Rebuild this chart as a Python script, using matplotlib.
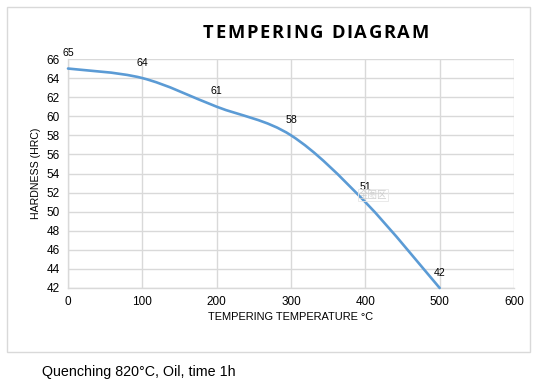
import numpy as np
import matplotlib
matplotlib.use("Agg")
import matplotlib.pyplot as plt
from matplotlib.path import Path
from matplotlib.patches import PathPatch, Rectangle

# Tempering diagram: hardness vs tempering temperature
temps = [0, 100, 200, 300, 400, 500]
hardness = [65, 64, 61, 58, 51, 42]
x_ticks = [0, 100, 200, 300, 400, 500, 600]
y_ticks = list(range(42, 67, 2))

title = "TEMPERING DIAGRAM"
x_label = "TEMPERING TEMPERATURE °C"
y_label = "HARDNESS (HRC)"
caption = "Quenching 820°C, Oil, time 1h"

line_color = "#5B9BD5"
grid_color = "#D9D9D9"

plt.rcParams["font.family"] = ["Liberation Sans", "DejaVu Sans"]

fig = plt.figure(figsize=(5.4, 3.82), dpi=100)
fig.patch.set_facecolor("white")

# outer chart frame
fig.patches.append(Rectangle((7 / 540, 1 - 352 / 382), 523 / 540, 345 / 382,
                             transform=fig.transFigure, fill=False,
                             edgecolor="#D9D9D9", linewidth=1.0))

ax = fig.add_axes([68 / 540, 1 - 288 / 382, 446 / 540, 229 / 382])
ax.set_xlim(0, 600)
ax.set_ylim(42, 66)
ax.set_xticks(x_ticks)
ax.set_yticks(y_ticks)
ax.tick_params(length=0, labelsize=8.5, colors="#000000", pad=6)
ax.grid(True, color=grid_color, linewidth=1.0)
ax.set_axisbelow(True)
for side in ["top", "right"]:
    ax.spines[side].set_visible(False)
for side in ["left", "bottom"]:
    ax.spines[side].set_color(grid_color)
    ax.spines[side].set_linewidth(1.0)

# smoothed line like a spreadsheet "smooth line" (bezier through the points)
pts = np.column_stack([temps, hardness]).astype(float)
verts = [pts[0]]
codes = [Path.MOVETO]
n = len(pts)
for i in range(n - 1):
    p_prev = pts[i - 1] if i > 0 else pts[i]
    p_next2 = pts[i + 2] if i + 2 < n else pts[i + 1]
    c1 = pts[i] + (pts[i + 1] - p_prev) / 6.0
    c2 = pts[i + 1] - (p_next2 - pts[i]) / 6.0
    verts += [c1, c2, pts[i + 1]]
    codes += [Path.CURVE4] * 3
ax.add_patch(PathPatch(Path(verts, codes), facecolor="none",
                       edgecolor=line_color, linewidth=1.9,
                       capstyle="round", clip_on=False, zorder=3))

for t, h in zip(temps, hardness):
    ax.annotate(str(h), (t, h), xytext=(0, 11), textcoords="offset points",
                ha="center", va="center", fontsize=7.6, color="#000000",
                annotation_clip=False)

ax.set_xlabel(x_label, fontsize=7.9, labelpad=3)
ax.set_ylabel(y_label, fontsize=7.6, labelpad=4)

# letter-spaced title, placed char by char
title_kw = dict(fontsize=13.2, fontweight="bold", color="#000000",
                family=["Open Sans", "DejaVu Sans"], va="center", ha="left")
renderer = fig.canvas.get_renderer()


def text_w(s):
    t = fig.text(0, 0, s, **title_kw)
    w = t.get_window_extent(renderer).width
    t.remove()
    return w


ref_w = text_w("I")
advances = [text_w(title[:k] + "I") - ref_w for k in range(len(title))]
natural = text_w(title)
x_left, x_right = 203, 429
spacing = ((x_right - x_left) - natural) / (len(title) - 1)
for k, ch in enumerate(title):
    if ch == " ":
        continue
    fig.text((x_left + advances[k] + k * spacing) / 540, 1 - 33 / 382, ch, **title_kw)

# faint watermark in the screenshot
fig.text(373 / 540, 1 - 195 / 382, "全图区", ha="center", va="center",
         fontsize=6.8, color="#CFCFCF", family=["Noto Sans CJK SC", "DejaVu Sans"],
         bbox=dict(boxstyle="square,pad=0.1", facecolor="none",
                   edgecolor="#E6E6E6", linewidth=0.6))

fig.text(42 / 540, 1 - 372 / 382, caption, ha="left", va="center",
         fontsize=10.3, color="#000000")

fig.savefig("out.png", dpi=100)
